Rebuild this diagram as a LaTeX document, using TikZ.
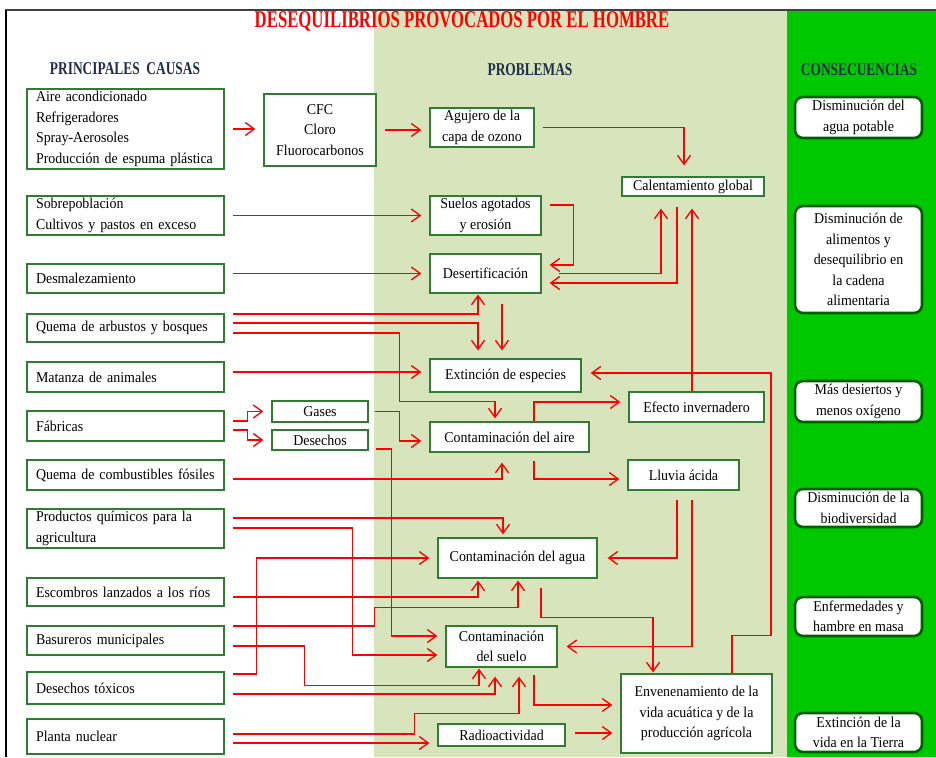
\documentclass[tikz,border=0pt]{standalone}
\usepackage{fontspec}
\setmainfont{Liberation Serif}[FakeStretch=0.93]
\usepackage{graphicx}
\usetikzlibrary{arrows.meta}

\definecolor{verdeclaro}{RGB}{216,228,188}
\definecolor{verdefuerte}{RGB}{0,200,0}
\definecolor{borde}{RGB}{46,125,50}
\definecolor{bordecons}{RGB}{0,95,0}
\definecolor{azulosc}{RGB}{31,45,75}

\newcommand{\angosto}[2]{\scalebox{#1}[1]{#2}}

\begin{document}
\begin{tikzpicture}[x=1pt, y=-1pt,
  font=\fontsize{15}{20.5}\selectfont,
  box/.style={draw=borde, line width=1.2pt, fill=white, align=center, inner sep=0pt},
  causa/.style={box, align=left, text width=179pt, inner xsep=9pt},
  cons/.style={draw=bordecons, line width=2.6pt, rounded corners=8pt, fill=white, align=center, inner sep=0pt, minimum width=127pt},
  head/.style={text=azulosc, font=\bfseries\fontsize{18}{18}\selectfont},
  link/.style={red, line width=1.35pt, shorten <=8pt, shorten >=8pt, ->},
  >={Straight Barb[length=9pt,width=13pt]}]
\useasboundingbox (0,0) rectangle (936,757);
% fondo
\fill[verdeclaro] (374,11) rectangle (787,757);
\fill[verdefuerte] (787,11) rectangle (936,757);
\draw[black!75, line width=2pt] (5,10) -- (936,10);
\draw[black, line width=1.5pt] (6,10) -- (6,757);
% titulos
\node[text=red, font=\bfseries\fontsize{24}{24}\selectfont] (titulo) at (462,22) {\angosto{0.75}{DESEQUILIBRIOS PROVOCADOS POR EL HOMBRE}};
\node[head] (hcausas) at (125,69) {\angosto{0.8}{PRINCIPALES\ \ CAUSAS}};
\node[head] (hprob) at (530,70) {\angosto{0.8}{PROBLEMAS}};
\node[head] (hcons) at (859,70) {\angosto{0.8}{CONSECUENCIAS}};
% causas
\node[causa, minimum height=80pt] (acond) at (125.5,129) {Aire acondicionado\\Refrigeradores\\Spray-Aerosoles\\Producción de espuma plástica};
\node[causa, minimum height=39pt] (sobrepob) at (125.5,215.5) {Sobrepoblación\\Cultivos y pastos en exceso};
\node[causa, minimum height=29pt] (desmal) at (125.5,278.5) {Desmalezamiento};
\node[causa, minimum height=28pt] (quema) at (125.5,328) {Quema de arbustos y bosques};
\node[causa, minimum height=30pt] (matanza) at (125.5,377) {Matanza de animales};
\node[causa, minimum height=30pt] (fabricas) at (125.5,426) {Fábricas};
\node[causa, minimum height=30pt] (combust) at (125.5,475) {Quema de combustibles fósiles};
\node[causa, minimum height=39pt] (quimicos) at (125.5,528.5) {Productos químicos para la\\agricultura};
\node[causa, minimum height=28pt] (escombros) at (125.5,592) {Escombros lanzados a los ríos};
\node[causa, minimum height=29pt] (basura) at (125.5,640.5) {Basureros municipales};
\node[causa, minimum height=32pt] (toxicos) at (125.5,688) {Desechos tóxicos};
\node[causa, minimum height=35pt] (nuclear) at (125.5,736.5) {Planta nuclear};
% intermedios
\node[box, minimum width=112pt, minimum height=72pt] (cfc) at (320,130) {CFC\\Cloro\\Fluorocarbonos};
\node[box, minimum width=96pt, minimum height=21pt] (gases) at (320,411.5) {Gases};
\node[box, minimum width=96pt, minimum height=20pt] (desechos) at (320,440) {Desechos};
% problemas
\node[box, minimum width=104pt, minimum height=39pt] (ozono) at (482,127.5) {Agujero de la\\capa de ozono};
\node[box, minimum width=111pt, minimum height=39pt] (suelos) at (485.5,215.5) {Suelos agotados\\y erosión};
\node[box, minimum width=111pt, minimum height=39pt] (desert) at (485.5,273.5) {Desertificación};
\node[box, minimum width=151pt, minimum height=33pt] (extincion) at (505.5,375.5) {Extinción de especies};
\node[box, minimum width=159pt, minimum height=30pt] (contaire) at (509.5,437) {Contaminación del aire};
\node[box, minimum width=159pt, minimum height=40pt] (contagua) at (517.5,558) {Contaminación del agua};
\node[box, minimum width=111pt, minimum height=41pt] (contsuelo) at (501.5,646.5) {Contaminación\\del suelo};
\node[box, minimum width=127pt, minimum height=22pt] (radio) at (501.5,735) {Radioactividad};
\node[box, minimum width=142pt, minimum height=19pt] (calent) at (693,186.5) {Calentamiento global};
\node[box, minimum width=135pt, minimum height=30pt] (efecto) at (696.5,407) {Efecto invernadero};
\node[box, minimum width=111pt, minimum height=30pt] (lluvia) at (683.5,475) {Lluvia ácida};
\node[box, minimum width=151pt, minimum height=79pt] (envenen) at (696.5,713.5) {Envenenamiento de la\\vida acuática y de la\\producción agrícola};
% consecuencias
\node[cons, minimum height=41pt] (agua) at (858.5,117.5) {Disminución del\\agua potable};
\node[cons, minimum height=107pt] (alimentos) at (858.5,259.5) {Disminución de\\alimentos y\\desequilibrio en\\la cadena\\alimentaria};
\node[cons, minimum height=41pt] (desiertos) at (858.5,401.5) {Más desiertos y\\menos oxígeno};
\node[cons, minimum height=38pt] (biodiv) at (858.5,508) {Disminución de la\\biodiversidad};
\node[cons, minimum height=39pt] (hambre) at (858.5,616.5) {Enfermedades y\\hambre en masa};
\node[cons, minimum height=39pt] (vida) at (858.5,732.5) {Extinción de la\\vida en la Tierra};
% conexiones
\draw[link] (acond.east) -- (acond.east -| cfc.west);
\draw[link] (cfc.east) -- (cfc.east -| ozono.west);
\draw[link, shorten >=11pt] (ozono.east) -| ([xshift=-9pt]calent.north);
\draw[link] (sobrepob.east) -- (sobrepob.east -| suelos.west);
\draw[link] ([yshift=10.5pt]suelos.east) -- ++(32,0) |- ([yshift=8.5pt]desert.east);
\draw[link] (desmal.east |- desert.west) -- (desert.west);
\draw[link, shorten <=17pt, shorten >=12pt] (desert.east) -| ([xshift=-32pt]calent.south);
\draw[link, shorten <=10pt] ([xshift=-16pt]calent.south) |- ([yshift=-9.5pt]desert.east);
\draw[link, shorten <=0pt, shorten >=12pt] ([xshift=-4.5pt]efecto.north) -- ([xshift=-4.5pt]efecto.north |- calent.south);
\draw[link, shorten >=1pt] ([yshift=14pt]quema.east) -| ([xshift=-7.5pt]desert.south);
\draw[link] ([yshift=5pt]quema.east) -| ([xshift=-27.5pt]extincion.north);
\draw[link, shorten <=10pt] ([xshift=16.5pt]desert.south) -- ([xshift=16.5pt]desert.south |- extincion.north);
\draw[link, shorten >=3pt] ([yshift=-5pt]quema.east) -- ++(175,0) |- ([xshift=-14.5pt,yshift=20pt]contaire.north) -- ([xshift=-14.5pt]contaire.north);
\draw[link] ([yshift=5pt]matanza.east) -- ([yshift=5pt]matanza.east -| extincion.west);
\draw[link] ([yshift=5pt]fabricas.east) -- ++(23,0) |- (gases.west);
\draw[link] ([yshift=-4pt]fabricas.east) -- ++(23,0) |- (desechos.west);
\draw[link, shorten <=6pt] (gases.east) -- ++(31,0) |- ([yshift=-4pt]contaire.west);
\draw[link, shorten <=7pt] ([yshift=-9pt]desechos.east) -- ++(23,0) |- ([yshift=10.5pt]contsuelo.west);
\draw[link, shorten <=0pt] ([xshift=24.5pt]contaire.north) |- ([yshift=5pt]efecto.west);
\draw[link, shorten >=10pt] ([yshift=-4pt]combust.east) -| ([xshift=-7.5pt]contaire.south);
\draw[link] ([xshift=24.5pt]contaire.south) |- ([yshift=-4pt]lluvia.west);
\draw[link, shorten >=3pt] ([yshift=10.5pt]quimicos.east) -| ([xshift=-14.5pt]contagua.north);
\draw[link] ([yshift=0.5pt]quimicos.east) -- ++(128,0) |- ([yshift=-8.5pt]contsuelo.west);
\draw[link] ([yshift=14pt]toxicos.east) -- ++(32,0) |- (contagua.west);
\draw[link, shorten >=2pt] ([yshift=-5pt]escombros.east) -| ([xshift=-39.5pt]contagua.south);
\draw[link, shorten >=2pt] ([yshift=14.5pt]basura.east) -- ++(150,0) |- ([xshift=0.5pt,yshift=-29pt]contagua.south) -- ([xshift=0.5pt]contagua.south);
\draw[link, shorten >=1pt] ([yshift=-5.5pt]basura.east) -- ++(80,0) |- ([xshift=-22.5pt,yshift=-18pt]contsuelo.south) -- ([xshift=-22.5pt]contsuelo.south);
\draw[link, shorten >=9pt] ([yshift=-6pt]toxicos.east) -| ([xshift=-6.5pt]contsuelo.south);
\draw[link, shorten >=9pt] ([yshift=2.5pt]nuclear.east) -- ++(190,0) |- ([xshift=17.5pt,yshift=-46pt]contsuelo.south) -- ([xshift=17.5pt]contsuelo.south);
\draw[link] ([yshift=-6.5pt]nuclear.east) -- ([yshift=-6.5pt]nuclear.east -| radio.west);
\draw[link, shorten <=9pt, shorten >=10pt] ([xshift=-6.5pt]lluvia.south) |- (contagua.east);
\draw[link, shorten <=9pt, shorten >=9pt] ([xshift=8.5pt]lluvia.south) |- (contsuelo.east);
\draw[link, shorten <=9pt, shorten >=1pt] ([xshift=23.5pt]contagua.south) -- ++(0,39) -| ([xshift=-43.5pt]envenen.north);
\draw[link, shorten <=7pt] ([xshift=32.5pt]contsuelo.south) |- ([yshift=8.5pt]envenen.west);
\draw[link, shorten <=9pt] ([yshift=2pt]radio.east) -- ([yshift=2pt]radio.east -| envenen.west);
\draw[link, shorten <=0pt, shorten >=9pt] ([xshift=35.5pt]envenen.north) |- ([xshift=74.5pt,yshift=38pt]envenen.north) |- ([yshift=2.5pt]extincion.east);
\end{tikzpicture}
\end{document}
